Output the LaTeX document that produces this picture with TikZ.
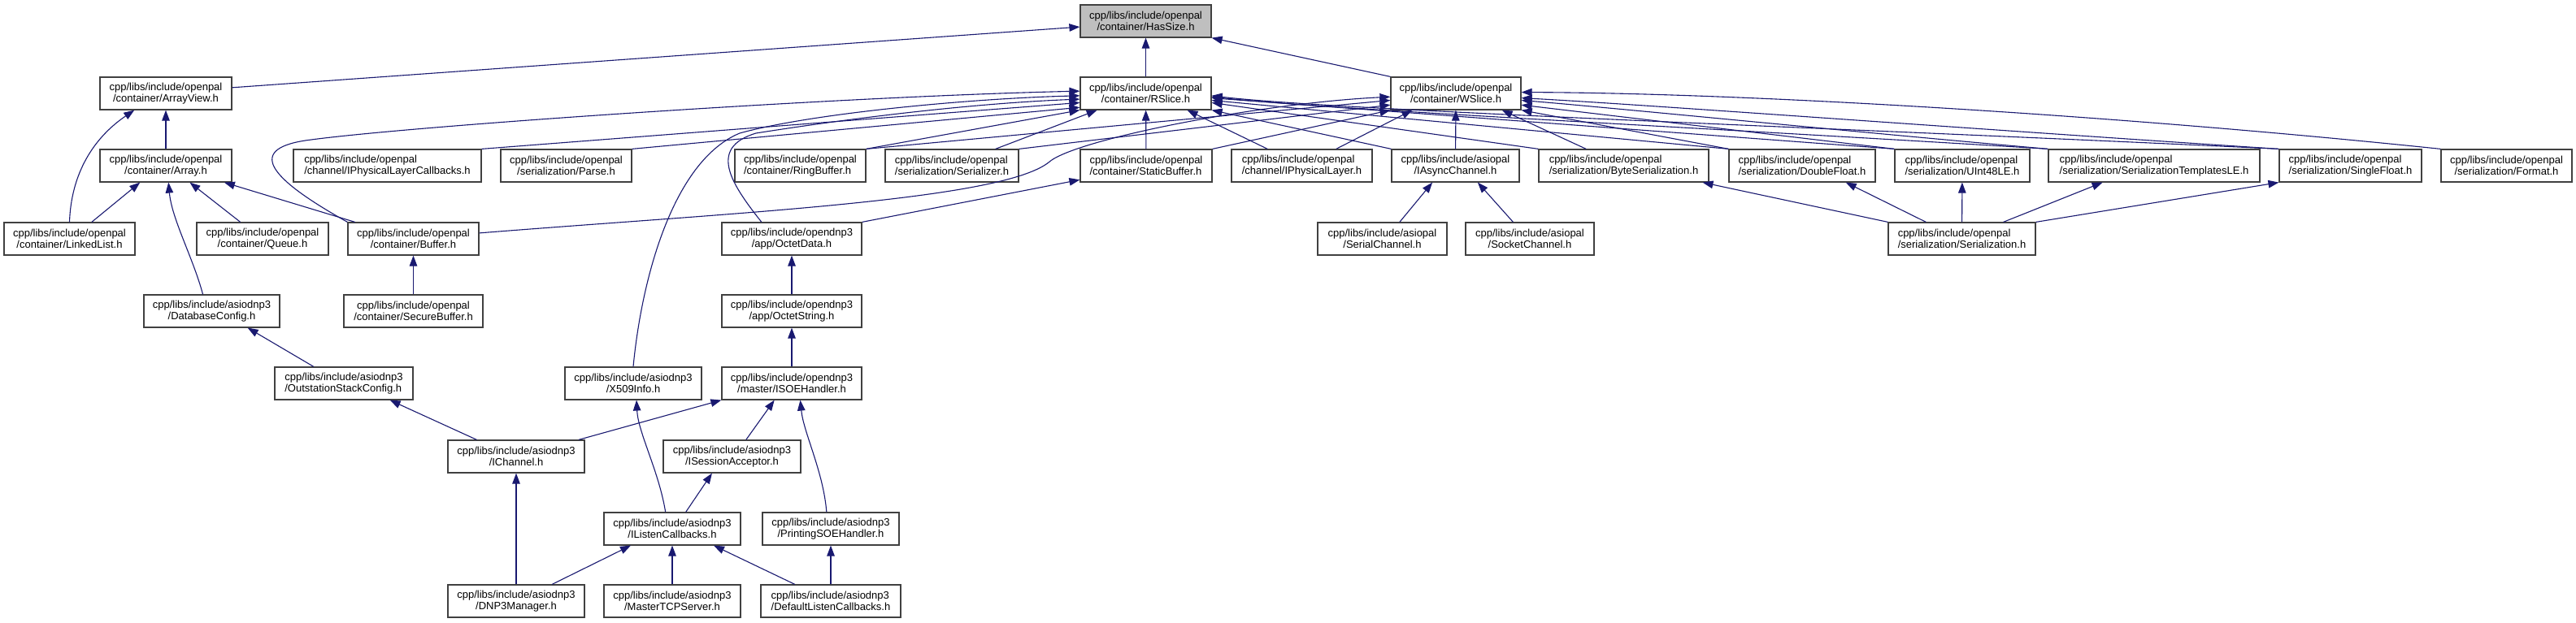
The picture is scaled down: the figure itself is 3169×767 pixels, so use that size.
\documentclass[tikz,border=0pt]{standalone}
\usepackage{fontspec}
\setmainfont{Liberation Sans}
\usetikzlibrary{arrows.meta}
\definecolor{edgeblue}{HTML}{191970}
\definecolor{rootgrey}{HTML}{BFBFBF}

\begin{document}
\begin{tikzpicture}[x=1pt,y=1pt,
  file/.style={draw=black!75,line width=1.2pt,fill=white,inner sep=0pt,minimum height=40pt,align=center,font=\fontsize{13}{14.5}\selectfont},
  lfile/.style={file,align=left},
  root/.style={file,fill=rootgrey},
  arrow/.style={-{Triangle[length=13pt,width=9.5pt]},color=edgeblue,line width=1.1pt}
]
\useasboundingbox (0,0) rectangle (3169,767);

% row 0
\node[root,minimum width=161pt] (hassize) at (1409.5,741) {cpp/libs/include/openpal\\/container/HasSize.h};
% row 1
\node[file,minimum width=162pt] (arrayview) at (204,652) {cpp/libs/include/openpal\\/container/ArrayView.h};
\node[file,minimum width=161pt] (rslice) at (1409.5,652) {cpp/libs/include/openpal\\/container/RSlice.h};
\node[file,minimum width=160pt] (wslice) at (1791,652) {cpp/libs/include/openpal\\/container/WSlice.h};
% row 2
\node[file,minimum width=162pt] (array) at (204,563) {cpp/libs/include/openpal\\/container/Array.h};
\node[lfile,minimum width=231pt] (iplcb) at (476.5,563) {cpp/libs/include/openpal\\/channel/IPhysicalLayerCallbacks.h};
\node[file,minimum width=161pt] (parse) at (696.5,563) {cpp/libs/include/openpal\\/serialization/Parse.h};
\node[lfile,minimum width=161pt] (ringbuf) at (984.5,563) {cpp/libs/include/openpal\\/container/RingBuffer.h};
\node[lfile,minimum width=164pt] (serializer) at (1171,563) {cpp/libs/include/openpal\\/serialization/Serializer.h};
\node[lfile,minimum width=162pt] (staticbuf) at (1410,563) {cpp/libs/include/openpal\\/container/StaticBuffer.h};
\node[lfile,minimum width=173pt] (iphys) at (1601.5,563) {cpp/libs/include/openpal\\/channel/IPhysicalLayer.h};
\node[file,minimum width=157pt] (iasync) at (1790.5,563) {cpp/libs/include/asiopal\\/IAsyncChannel.h};
\node[lfile,minimum width=209pt] (byteser) at (1997.5,563) {cpp/libs/include/openpal\\/serialization/ByteSerialization.h};
\node[lfile,minimum width=180pt] (dfloat) at (2217,563) {cpp/libs/include/openpal\\/serialization/DoubleFloat.h};
\node[lfile,minimum width=166pt] (uint48) at (2414,563) {cpp/libs/include/openpal\\/serialization/UInt48LE.h};
\node[lfile,minimum width=260pt] (sertpl) at (2650,563) {cpp/libs/include/openpal\\/serialization/SerializationTemplatesLE.h};
\node[lfile,minimum width=175pt] (sfloat) at (2891.5,563) {cpp/libs/include/openpal\\/serialization/SingleFloat.h};
\node[file,minimum width=161pt] (format) at (3083.5,563) {cpp/libs/include/openpal\\/serialization/Format.h};
% row 3
\node[file,minimum width=161pt] (linkedlist) at (85.5,473) {cpp/libs/include/openpal\\/container/LinkedList.h};
\node[file,minimum width=162pt] (queue) at (323,473) {cpp/libs/include/openpal\\/container/Queue.h};
\node[file,minimum width=161pt] (buffer) at (508.5,473) {cpp/libs/include/openpal\\/container/Buffer.h};
\node[file,minimum width=172pt] (octetdata) at (974,473) {cpp/libs/include/opendnp3\\/app/OctetData.h};
\node[file,minimum width=159pt] (serialch) at (1700.5,473) {cpp/libs/include/asiopal\\/SerialChannel.h};
\node[file,minimum width=158pt] (socketch) at (1882,473) {cpp/libs/include/asiopal\\/SocketChannel.h};
\node[lfile,minimum width=181pt] (serialization) at (2413.5,473) {cpp/libs/include/openpal\\/serialization/Serialization.h};
% row 4
\node[file,minimum width=167pt] (dbconfig) at (260.5,384) {cpp/libs/include/asiodnp3\\/DatabaseConfig.h};
\node[file,minimum width=171pt] (securebuf) at (508.5,384) {cpp/libs/include/openpal\\/container/SecureBuffer.h};
\node[file,minimum width=172pt] (octetstring) at (974,384) {cpp/libs/include/opendnp3\\/app/OctetString.h};
% row 5
\node[lfile,minimum width=170pt] (osconfig) at (423,295) {cpp/libs/include/asiodnp3\\/OutstationStackConfig.h};
\node[file,minimum width=168pt] (x509) at (779,295) {cpp/libs/include/asiodnp3\\/X509Info.h};
\node[file,minimum width=172pt] (isoe) at (974,295) {cpp/libs/include/opendnp3\\/master/ISOEHandler.h};
% row 6
\node[file,minimum width=168pt] (ichannel) at (635,205) {cpp/libs/include/asiodnp3\\/IChannel.h};
\node[file,minimum width=169pt] (isession) at (900.5,205) {cpp/libs/include/asiodnp3\\/ISessionAcceptor.h};
% row 7
\node[file,minimum width=168pt] (ilisten) at (827,116) {cpp/libs/include/asiodnp3\\/IListenCallbacks.h};
\node[file,minimum width=168pt] (printsoe) at (1022,116) {cpp/libs/include/asiodnp3\\/PrintingSOEHandler.h};
% row 8
\node[file,minimum width=168pt] (dnp3mgr) at (635,27) {cpp/libs/include/asiodnp3\\/DNP3Manager.h};
\node[file,minimum width=168pt] (mastertcp) at (827,27) {cpp/libs/include/asiodnp3\\/MasterTCPServer.h};
\node[lfile,minimum width=172pt] (deflisten) at (1022,27) {cpp/libs/include/asiodnp3\\/DefaultListenCallbacks.h};

% into HasSize
\draw[arrow] (arrayview.5) -- (hassize.185);
\draw[arrow] (rslice) -- (hassize);
\draw[arrow] (wslice.north west) -- (hassize.south east);
% into ArrayView and Array
\draw[arrow] (array) -- (arrayview);
\draw[arrow] (linkedlist.north) .. controls +(2,60) and +(-50,-34) .. (arrayview.208);
\draw[arrow] (linkedlist.37) -- (array.213);
\draw[arrow] (queue.143) -- (array.325);
\draw[arrow] (dbconfig.118) .. controls +(-12,45) and +(4,-45) .. (array.279);
\draw[arrow] (buffer.164) -- (array.344);
\draw[arrow] (securebuf) -- (buffer);
% into RSlice
\draw[arrow] (buffer.north west) .. controls (330,548) and (300,585) .. (383,595) .. controls (510,612) and (1029,648) .. (rslice.178);
\draw[arrow] (x509.north) .. controls (790,430) and (830,570) .. (910,603) .. controls (1000,628) and (1200,646) .. (rslice.182);
\draw[arrow] (octetdata.151) .. controls (900,540) and (870,585) .. (930,603) .. controls (1050,622) and (1200,640) .. (rslice.185);
\draw[arrow] (iplcb.north east) -- (rslice.188);
\draw[arrow] (parse.north east) -- (rslice.192);
\draw[arrow] (ringbuf.north east) -- (rslice.south west);
\draw[arrow] (serializer.21) -- (rslice.199);
\draw[arrow] (staticbuf) -- (rslice);
\draw[arrow] (iphys.154) -- (rslice.338);
\draw[arrow] (iasync.north west) -- (rslice.south east);
\draw[arrow] (byteser.north west) -- (rslice.352);
\draw[arrow] (dfloat.north west) -- (rslice.354);
\draw[arrow] (uint48.north west) -- (rslice.356);
\draw[arrow] (sertpl.north west) .. controls +(-400,25) and +(150,-16) .. (rslice.357);
\draw[arrow] (sfloat.north west) .. controls +(-520,25) and +(150,-18) .. (rslice.358);
% into WSlice
\draw[arrow] (buffer.5) .. controls (900,505) and (1230,520) .. (1290,567) .. controls (1320,595) and (1550,640) .. (wslice.183);
\draw[arrow] (ringbuf.north east) -- (wslice.186);
\draw[arrow] (serializer.north east) -- (wslice.190);
\draw[arrow] (staticbuf.north east) -- (wslice.south west);
\draw[arrow] (iphys.26) -- (wslice.201);
\draw[arrow] (iasync) -- (wslice);
\draw[arrow] (byteser.156) -- (wslice.340);
\draw[arrow] (dfloat.north west) -- (wslice.south east);
\draw[arrow] (uint48.north west) -- (wslice.350);
\draw[arrow] (sertpl.north west) .. controls +(-250,22) and +(120,-10) .. (wslice.354);
\draw[arrow] (sfloat.north west) .. controls +(-370,24) and +(150,-8) .. (wslice.356);
\draw[arrow] (format.north west) .. controls +(-403,42) and +(277,-1) .. (wslice.1);
% serialization and channels
\draw[arrow] (serialch.44) -- (iasync.216);
\draw[arrow] (socketch.135) -- (iasync.323);
\draw[arrow] (serialization.north west) -- (byteser.348);
\draw[arrow] (serialization.155) -- (dfloat.339);
\draw[arrow] (serialization) -- (uint48);
\draw[arrow] (serialization.22) -- (sertpl.198);
\draw[arrow] (serialization.north east) -- (sfloat.south west);
% octet data chain
\draw[arrow] (octetdata.north east) -- (staticbuf.192);
\draw[arrow] (octetstring) -- (octetdata);
\draw[arrow] (isoe) -- (octetstring);
% asiodnp3
\draw[arrow] (osconfig.151) -- (dbconfig.335);
\draw[arrow] (ichannel.157) -- (osconfig.340);
\draw[arrow] (ichannel.15) -- (isoe.south west);
\draw[arrow] (isession.50) -- (isoe.224);
\draw[arrow] (printsoe.104) .. controls +(-4,50) and +(4,-40) .. (isoe.297);
\draw[arrow] (ilisten.51) -- (isession.220);
\draw[arrow] (ilisten.112) .. controls +(-8,50) and +(2,-40) .. (x509.281);
\draw[arrow] (dnp3mgr) -- (ichannel);
\draw[arrow] (dnp3mgr.25) -- (ilisten.202);
\draw[arrow] (mastertcp) -- (ilisten);
\draw[arrow] (deflisten.155) -- (ilisten.338);
\draw[arrow] (deflisten) -- (printsoe);
\end{tikzpicture}
\end{document}
